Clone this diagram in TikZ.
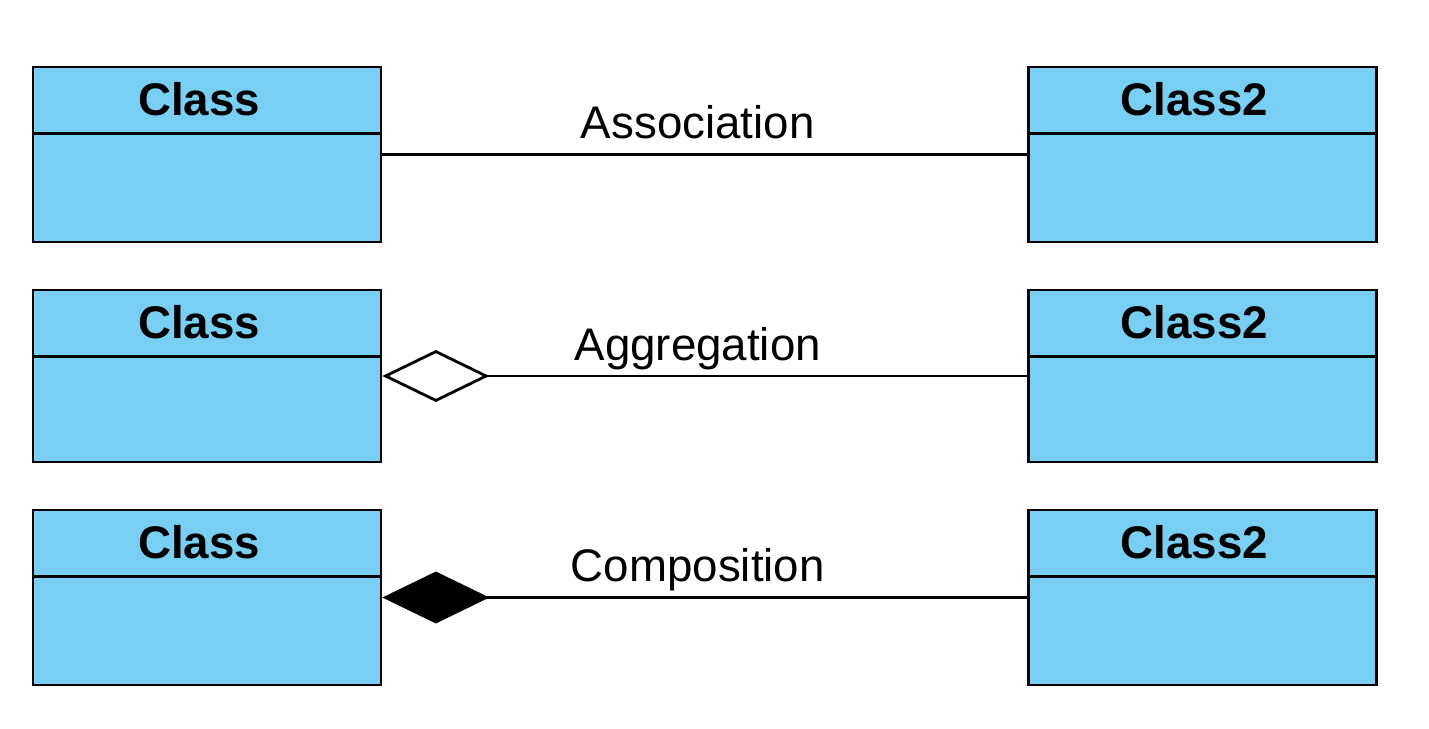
\documentclass[tikz,border=0pt]{standalone}
\usepackage{fontspec}
\setmainfont{Liberation Sans}
\usepackage{xcolor}
\usetikzlibrary{positioning,arrows.meta}
\definecolor{classblue}{HTML}{79CEF3}

\begin{document}
\begin{tikzpicture}[
  x=0.02cm, y=-0.02cm, line width=1.6pt,
  cls/.style={draw, fill=classblue, minimum width=6.96cm, inner sep=0pt},
  clsname/.style={font=\fontsize{26}{30}\selectfont\bfseries, minimum height=1.3cm, anchor=north, xshift=-0.16cm, inner sep=0pt},
  rel/.style={font=\fontsize{26}{30}\selectfont, midway, anchor=base, xshift=-0.14cm, yshift=0.32cm, inner sep=0pt},
  assoc/.style={},
  aggr/.style={{Diamond[open, length=2.14cm, width=1.04cm]}-},
  comp/.style={{Diamond[length=2.14cm, width=1.04cm]}-},
]
\useasboundingbox (0,0) rectangle (1429,729);
% one row per relation kind
\foreach \r/\t/\b/\lbl/\kind in {1/67/242/Association/assoc, 2/290/462/Aggregation/aggr, 3/510/685/Composition/comp}{
  \node[cls, minimum height={(\b-\t)*0.02cm}] (left\r) at (207,{(\t+\b)/2}) {};
  \node[cls, minimum height={(\b-\t)*0.02cm}] (right\r) at (1202.5,{(\t+\b)/2}) {};
  \foreach \s/\txt in {left/Class, right/Class2}{
    \node[clsname] (\s\r name) at (\s\r.north) {\txt};
    \draw (\s\r.west |- \s\r name.south) -- (\s\r.east |- \s\r name.south);
  }
  \draw[\kind] (left\r) -- (right\r) node[rel]{\lbl};
}
\end{tikzpicture}
\end{document}
